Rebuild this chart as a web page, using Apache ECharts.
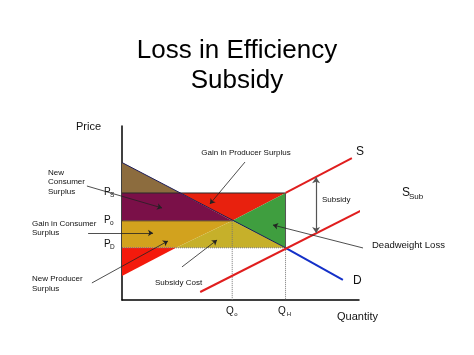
<!DOCTYPE html>
<html>
<head>
<meta charset="utf-8">
<script src="https://cdn.jsdelivr.net/npm/echarts@6/dist/echarts.min.js"></script>
<style>
  html, body { margin: 0; padding: 0; background: #fff; }
  #cht { width: 474px; height: 355px; }
</style>
</head>
<body>
<div id="cht"></div>
<script>
const cht = echarts.init(document.getElementById('cht'));
const FONT = '"Liberation Sans", Arial, Helvetica, sans-serif';

// price / quantity levels (axes run 0..10)
const Ps = 6.15, Po = 4.55, Pd = 3.0;
const Q0 = 4.65, Qh = 6.9;

// curves
const demandInner = [[0, 7.9], [Qh, Pd]];
const demandOuter = [[Qh, Pd], [9.32, 1.15]];
const supplyVisible = [[Qh, Ps], [9.7, 8.16]];
const supplySub = [[3.3, 0.46], [11.43, 6.06]];

// shaded regions
const brownArea = [[0, 7.9], [0, Ps], [2.46, Ps]];
const maroonArea = [[0, Ps], [2.46, Ps], [Q0, Po], [0, Po]];
const redArea = [[2.46, Ps], [Qh, Ps], [Q0, Po]];
const greenArea = [[Q0, Po], [Qh, Ps], [Qh, Pd]];
const goldArea = [[0, Po], [Q0, Po], [2.28, Pd], [0, Pd]];
const oliveArea = [[2.28, Pd], [Q0, Po], [Qh, Pd]];
const redLowArea = [[0, Pd], [0, 1.38], [2.28, Pd]];

// annotation arrows (data units)
const arrows = [
  [[5.19, 7.93], [3.71, 5.52]],
  [[-1.48, 6.55], [1.69, 5.29]],
  [[-1.43, 3.85], [1.31, 3.85]],
  [[-1.27, 0.98], [1.94, 3.39]],
  [[2.53, 1.9], [4.01, 3.45]],
  [[10.17, 2.99], [6.37, 4.31]]
];
const subsidyArrow = [[8.19, 7.05], [8.19, 3.85]];

function area(points, color) {
  return {
    type: 'custom',
    clip: false,
    silent: true,
    data: [[0, 0]],
    renderItem: (params, api) => ({
      type: 'polygon',
      shape: { points: points.map(p => api.coord(p)) },
      style: { fill: color }
    })
  };
}

function seg(points, color, width, type) {
  return {
    type: 'line',
    data: points,
    showSymbol: false,
    clip: false,
    silent: true,
    z: 3,
    lineStyle: { color: color, width: width, type: type || 'solid' }
  };
}

function txt(x, y, text, size, align) {
  return {
    type: 'text',
    x: x, y: y,
    style: {
      text: text,
      font: size + 'px ' + FONT,
      fill: '#111',
      align: align || 'left',
      verticalAlign: 'middle',
      lineHeight: size + 1.5
    }
  };
}

const option = {
  animation: false,
  title: {
    text: 'Loss in Efficiency\nSubsidy',
    left: 'center',
    top: 31,
    textStyle: { fontSize: 26, fontWeight: 'normal', color: '#000', fontFamily: FONT, lineHeight: 30 }
  },
  grid: { left: 122, top: 126, width: 237, height: 174 },
  xAxis: {
    type: 'value', min: 0, max: 10,
    axisLine: { lineStyle: { color: '#000', width: 1.5 } },
    axisTick: { show: false }, axisLabel: { show: false }, splitLine: { show: false }
  },
  yAxis: {
    type: 'value', min: 0, max: 10,
    axisLine: { show: true, lineStyle: { color: '#000', width: 1.5 } },
    axisTick: { show: false }, axisLabel: { show: false }, splitLine: { show: false }
  },
  series: [
    area(brownArea, '#8c6c3e'),
    area(maroonArea, '#7a1048'),
    area(redArea, '#e8210e'),
    area(greenArea, '#3f9e3f'),
    area(goldArea, '#d2a21e'),
    area(oliveArea, '#c6b02a'),
    area(redLowArea, '#f41a0c'),
    seg([[0, Ps], [Qh, Ps]], '#2a2a2a', 1),
    seg([[0, Po], [Q0, Po]], '#3a2a2a', 0.8),
    seg([[Qh, Ps], [Qh, Pd]], '#555', 1),
    seg([[0, Pd], [Qh, Pd]], '#777', 1, 'dotted'),
    seg([[Q0, Po], [Q0, 0]], '#777', 1, 'dotted'),
    seg([[Qh, Pd], [Qh, 0]], '#777', 1, 'dotted'),
    seg(demandInner, '#1c1c58', 1),
    seg(demandOuter, '#1430c8', 2),
    seg(supplyVisible, '#e01e1e', 2),
    seg(supplySub, '#e01e1e', 2),
    {
      type: 'lines',
      coordinateSystem: 'cartesian2d',
      clip: false,
      silent: true,
      z: 4,
      symbol: ['none', 'arrow'],
      symbolSize: 5,
      lineStyle: { color: '#222', width: 0.8, opacity: 1 },
      data: arrows.map(c => ({ coords: c }))
    },
    {
      type: 'lines',
      coordinateSystem: 'cartesian2d',
      clip: false,
      silent: true,
      z: 4,
      symbol: ['arrow', 'arrow'],
      symbolSize: 6,
      lineStyle: { color: '#555', width: 1.2, opacity: 1 },
      data: [{ coords: subsidyArrow }]
    }
  ],
  graphic: [
    txt(76, 127, 'Price', 11),
    txt(337, 317, 'Quantity', 11),
    txt(356, 152, 'S', 12),
    txt(402, 193, 'S', 12),
    txt(409, 197, 'Sub', 8),
    txt(353, 281, 'D', 12),
    txt(322, 200, 'Subsidy', 8),
    txt(372, 245, 'Deadweight Loss', 9.5),
    txt(246, 153, 'Gain in Producer Surplus', 8, 'center'),
    txt(48, 182, 'New\nConsumer\nSurplus', 8),
    txt(32, 228.5, 'Gain in Consumer\nSurplus', 8),
    txt(32, 284, 'New Producer\nSurplus', 8),
    txt(155, 283, 'Subsidy Cost', 8),
    txt(104, 192, 'P', 10), txt(110, 195, 'S', 6.5),
    txt(104, 220, 'P', 10), txt(110, 223, 'o', 6.5),
    txt(104, 244, 'P', 10), txt(110, 247, 'D', 6.5),
    txt(230, 311, 'Q', 10, 'center'), txt(236, 314, 'o', 6, 'center'),
    txt(282, 311, 'Q', 10, 'center'), txt(289, 314, 'H', 6, 'center')
  ]
};

cht.setOption(option);
window.onresize = () => cht.resize();
</script>
</body>
</html>
